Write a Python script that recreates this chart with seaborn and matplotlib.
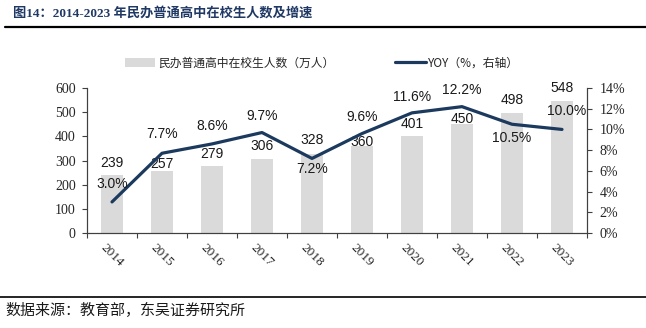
import matplotlib
matplotlib.use("Agg")
import matplotlib.pyplot as plt
import seaborn as sns
import pandas as pd
from matplotlib.lines import Line2D
from matplotlib.patches import Patch

years = ["2014", "2015", "2016", "2017", "2018", "2019", "2020", "2021", "2022", "2023"]
students = [239, 257, 279, 306, 328, 360, 401, 450, 498, 548]
yoy = [3.0, 7.7, 8.6, 9.7, 7.2, 9.6, 11.6, 12.2, 10.5, 10.0]

# label offsets (pixels) for readability
bar_label_dy = [12, 7, 12, 13, 14, 4, 12, 5, 13, 13]
line_label_dy = [18, 19, 18, 17, -11, 17, 16, 17, -14, 18]
line_label_dx = [0, 0, 0, 0, 0, 0, 0, 0, 0, 5]

sns.set_theme(style="white")
plt.rcParams['font.family'] = ['Noto Sans CJK SC', 'DejaVu Sans']

df = pd.DataFrame({"year": years, "students": students, "yoy": yoy})

PX = 0.72  # points per pixel at dpi 100
NAVY = "#1c3a5e"
fig = plt.figure(figsize=(6.46, 3.28), dpi=100)
ax = fig.add_axes([87/646, 1-233/328, 500/646, 145/328])

sns.barplot(data=df, x="year", y="students", ax=ax, color="#dadada",
            width=0.45, saturation=1, edgecolor="none")
ax.set_ylim(0, 600)
ax.set_xlim(-0.5, 9.5)
ax.set_yticks(range(0, 601, 100))
ax.set_xlabel("")
ax.set_ylabel("")

ax2 = ax.twinx()
sns.lineplot(data=df, x="year", y="yoy", ax=ax2, color=NAVY, linewidth=2.3, sort=False)
ax2.set_ylim(0, 14)
ax2.set_yticks(range(0, 15, 2))
ax2.set_yticklabels([f"{v}%" for v in range(0, 15, 2)])
ax2.set_ylabel("")
ax2.set_xlim(-0.5, 9.5)

serif = "Liberation Serif"
for a in (ax, ax2):
    a.spines["top"].set_visible(False)
    for s in ("left", "right", "bottom"):
        a.spines[s].set_color("#404040")
        a.spines[s].set_linewidth(0.8)

ax.tick_params(axis="y", left=True, length=3.6, width=0.8, color="#404040", labelsize=10, pad=4.5)
ax2.tick_params(axis="y", right=True, length=3.6, width=0.8, color="#404040", labelsize=10, pad=5.5)
for lbl in ax.get_yticklabels() + ax2.get_yticklabels():
    lbl.set_fontfamily(serif)

ax.set_xticks(range(len(years)))
ax.set_xticklabels(years, rotation=-45, ha="center", va="top", fontfamily=serif, fontsize=9.5)
ax.tick_params(axis="x", which="major", length=0, pad=6)
ax.set_xticks([i - 0.5 for i in range(len(years) + 1)], minor=True)
ax.tick_params(axis="x", which="minor", length=3.6, width=0.8, color="#404040", bottom=True)

label_font = "Liberation Sans"
for i, (v, dy) in enumerate(zip(students, bar_label_dy)):
    ax.annotate(f"{v}", (i, v), xytext=(0, dy * PX), textcoords="offset points",
                ha="center", va="center", fontsize=10, fontfamily=label_font, color="#1a1a1a")
for i, (v, dy, dx) in enumerate(zip(yoy, line_label_dy, line_label_dx)):
    ax2.annotate(f"{v:.1f}%", (i, v), xytext=(dx * PX, dy * PX), textcoords="offset points",
                 ha="center", va="center", fontsize=10, fontfamily=label_font, color="#1a1a1a")

handles = [Patch(facecolor="#dadada", edgecolor="none"),
           Line2D([0], [0], color=NAVY, linewidth=2.3)]
fig.legend(handles, ["民办普通高中在校生人数（万人）", "YOY（%，右轴）"],
           loc="center", bbox_to_anchor=(322/646, 1-63/328), ncol=2, frameon=False,
           fontsize=8.5, columnspacing=5.2, handlelength=2.6, handletextpad=0.2)

fig.text(13/646, 1-13/328, "图14：2014-2023 年民办普通高中在校生人数及增速",
         fontsize=9.5, fontweight="bold", color="#1f3864", va="center", ha="left",
         family=["Liberation Serif", "Noto Sans CJK SC"])
fig.add_artist(Line2D([5/646, 1], [1-27/328, 1-27/328], color="black", linewidth=1.6))
fig.add_artist(Line2D([0, 1], [1-297/328, 1-297/328], color="black", linewidth=1.2))
fig.text(5/646, 1-310/328, "数据来源：教育部，东吴证券研究所", fontsize=10.8, color="#1a1a1a",
         va="center", ha="left")

fig.savefig("out.png", dpi=100)
